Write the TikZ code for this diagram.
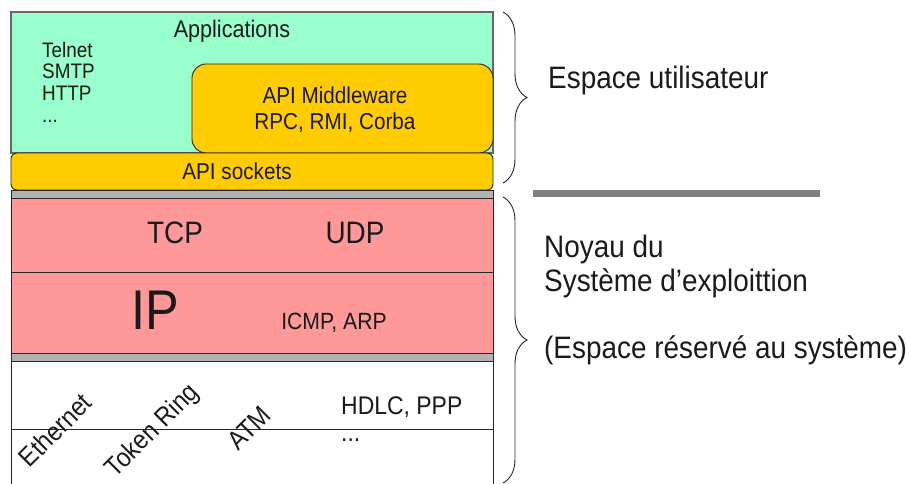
\documentclass[tikz,border=0pt]{standalone}
\usepackage{fontspec}
\setmainfont{Liberation Sans}[FakeStretch=0.9]
\usetikzlibrary{decorations.pathreplacing}
\definecolor{appgreen}{RGB}{153,255,204}
\definecolor{apiyellow}{RGB}{255,204,0}
\definecolor{netred}{RGB}{255,153,153}
\definecolor{bandgray}{RGB}{178,178,178}
\definecolor{bargray}{RGB}{128,128,128}
\definecolor{txt}{RGB}{26,26,26}
\newcommand{\fs}[1]{\fontsize{#1}{#1}\selectfont}
\begin{document}
\begin{tikzpicture}[x=1pt,y=-1pt,
  layer/.style={draw=black!85,line width=0.9pt},
  lbl/.style={inner sep=0pt,text=txt},
  bracestyle/.style={draw=black!85,line width=0.9pt,decorate,decoration={brace,amplitude=24pt}}]
\useasboundingbox (0,0) rectangle (907,484);
\clip (0,0) rectangle (907,484);
% layers
\draw[layer,fill=appgreen,draw=black!60,line width=1.2pt] (11,12) rectangle (493,153);
\draw[layer,fill=apiyellow,rounded corners=14pt] (192,64) rectangle (493,153);
\draw[layer,fill=apiyellow,rounded corners=6pt] (11,153) rectangle (493,190);
\draw[layer,fill=bandgray] (11,190) rectangle (493,198);
\draw[layer,fill=netred] (11,198) rectangle (493,272);
\draw[layer,fill=netred] (11,272) rectangle (493,353);
\draw[layer,fill=bandgray] (11,353) rectangle (493,361);
\draw[layer,fill=white] (11,361) rectangle (493,495);
\draw[layer] (11,429) -- (493,429);
% texts
\node[lbl,anchor=base] (apps) at (232,37.3) {\fs{24}Applications};
\node[lbl,anchor=base west] (telnet) at (42,57.3) {\fs{21}Telnet};
\node[lbl,anchor=base west] (smtp) at (42,79) {\fs{21}SMTP};
\node[lbl,anchor=base west] (http) at (42,100.7) {\fs{21}HTTP};
\node[lbl,anchor=base west] (dots1) at (42,123) {\fs{21}...};
\node[lbl,anchor=base] (mid1) at (335,104) {\fs{23}API Middleware};
\node[lbl,anchor=base] (mid2) at (335,129) {\fs{23}RPC, RMI, Corba};
\node[lbl,anchor=base] (sock) at (237,179) {\fs{23}API sockets};
\node[lbl,anchor=base] (tcp) at (175,243.3) {\fs{31}TCP};
\node[lbl,anchor=base] (udp) at (355,243.3) {\fs{31}UDP};
\node[lbl,anchor=base] (ip) at (155,329.3) {\fs{56}IP};
\node[lbl,anchor=base] (icmp) at (334,329) {\fs{23.5}ICMP, ARP};
\node[lbl,anchor=base west] (hdlc) at (341,414) {\fs{25.5}HDLC, PPP};
\node[lbl,anchor=base west] (dots2) at (341,441) {\fs{25.5}...};
\node[lbl,rotate=45] (eth) at (55,430) {\fs{26.5}Ethernet};
\node[lbl,rotate=45] (tok) at (153,431) {\fs{26.5}Token Ring};
\node[lbl,rotate=45] (atm) at (249,428) {\fs{26.5}ATM};
\node[lbl,anchor=base west] (user) at (548,89) {\fs{31}Espace utilisateur};
\node[lbl,anchor=base west] (noy1) at (544,257) {\fs{31}Noyau du};
\node[lbl,anchor=base west] (noy2) at (544,291) {\fs{31}Système d’exploittion};
\node[lbl,anchor=base west] (noy3) at (544,358) {\fs{31}(Espace réservé au système)};
% braces
\coordinate (b1t) at (503,12);
\coordinate (b1b) at (503,183);
\coordinate (b2t) at (503,197);
\coordinate (b2b) at (503,483);
\draw[bracestyle] (b1t) -- (b1b);
\draw[bracestyle] (b2t) -- (b2b);
% separator bar
\coordinate (barl) at (533,193);
\coordinate (barr) at (820,193);
\draw[bargray,line width=7pt] (barl) -- (barr);
\end{tikzpicture}
\end{document}
